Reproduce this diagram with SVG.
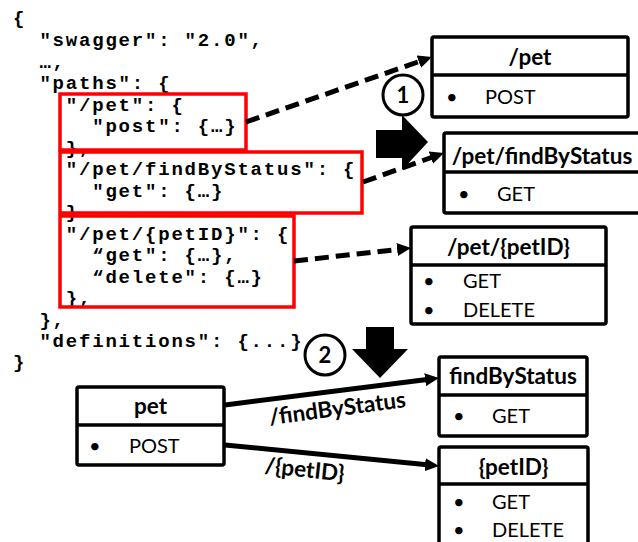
<svg xmlns="http://www.w3.org/2000/svg" width="638" height="542" viewBox="0 0 638 542">
<style>
.code{font-family:"Liberation Mono","Courier New",monospace;font-weight:bold;font-size:19px;letter-spacing:1.8px;fill:#000}
.box{fill:#fff;stroke:#000;stroke-width:3.5}
.div{stroke:#000;stroke-width:3.5}
.red{fill:none;stroke:#f00;stroke-width:3.5}
.ttl{font-family:Lato,"Liberation Sans",sans-serif;font-weight:bold;font-size:22.5px;text-anchor:middle;fill:#000}
.itm{font-family:Lato,"Liberation Sans",sans-serif;font-size:20px;fill:#000}
.lbl{font-family:Lato,"Liberation Sans",sans-serif;font-weight:bold;font-size:22.5px;fill:#000}
.num{font-family:Lato,"Liberation Sans",sans-serif;font-weight:bold;font-size:22px;text-anchor:middle;fill:#000}
.dash{stroke:#000;stroke-width:5;stroke-dasharray:14 7;fill:none}
.solid{stroke:#000;stroke-width:5;fill:none}
.circ{fill:#fff;stroke:#000;stroke-width:3}
</style>
<defs>
<marker id="ah" markerUnits="userSpaceOnUse" markerWidth="14" markerHeight="13" refX="2" refY="6.5" orient="auto">
<path d="M0,0 L14,6.5 L0,13 z" fill="#000"/>
</marker>
</defs>
<g id="code">
<text class="code" x="13" y="24">{</text>
<text class="code" x="39.4" y="46">"swagger": "2.0",</text>
<text class="code" x="39.4" y="68">…,</text>
<text class="code" x="39.4" y="89">"paths": {</text>
<text class="code" x="65.8" y="111">"/pet": {</text>
<text class="code" x="92.2" y="132">"post": {…}</text>
<text class="code" x="65.8" y="154">},</text>
<text class="code" x="65.8" y="175">"/pet/findByStatus": {</text>
<text class="code" x="92.2" y="197">"get": {…}</text>
<text class="code" x="65.8" y="218">}</text>
<text class="code" x="65.8" y="240">"/pet/{petID}": {</text>
<text class="code" x="92.2" y="261">“get": {…},</text>
<text class="code" x="92.2" y="283">“delete": {…}</text>
<text class="code" x="65.8" y="304">},</text>
<text class="code" x="39.4" y="326">},</text>
<text class="code" x="39.4" y="347">"definitions": {...}</text>
<text class="code" x="13" y="368">}</text>
</g>
<g id="highlights">
<rect class="red" x="60" y="94" width="186" height="56"/>
<rect class="red" x="60" y="152" width="302" height="61"/>
<rect class="red" x="60" y="216" width="234" height="91"/>
</g>
<g id="connectors">
<line class="dash" x1="246" y1="122" x2="420.7" y2="61" marker-end="url(#ah)"/>
<line class="dash" x1="363" y1="182" x2="432.7" y2="157" marker-end="url(#ah)"/>
<line class="dash" x1="294" y1="261" x2="399.1" y2="249.3" marker-end="url(#ah)"/>
<line class="solid" x1="225" y1="405" x2="427.1" y2="379.5" marker-end="url(#ah)"/>
<line class="solid" x1="225" y1="445" x2="427.1" y2="464.8" marker-end="url(#ah)"/>
<text class="lbl" x="270" y="425" transform="rotate(-7.5 270 425)">/findByStatus</text>
<text class="lbl" x="264" y="473" transform="rotate(6 264 473)">/{petID}</text>
</g>
<g id="step1">
<circle class="circ" cx="403" cy="95" r="20"/>
<text class="num" x="403" y="103">1</text>
<polygon points="376,130 402,130 402,115 428,142 402,170 402,158 376,158" fill="#000"/>
</g>
<g id="step2">
<circle class="circ" cx="325" cy="355" r="20"/>
<text class="num" x="325" y="363">2</text>
<polygon points="366,327 394,327 394,349 408,349 380,378 352,349 366,349" fill="#000"/>
</g>
<g id="node-pet-path">
<rect class="box" x="432" y="37" width="196" height="80" rx="2"/>
<line class="div" x1="432" y1="75" x2="628" y2="75"/>
<text class="ttl" x="530" y="65">/pet</text>
<text class="itm" x="446" y="104">•</text>
<text class="itm" x="485" y="104">POST</text>
</g>
<g id="node-findByStatus-path">
<rect class="box" x="444" y="133" width="200" height="80" rx="2"/>
<line class="div" x1="444" y1="172" x2="644" y2="172"/>
<text class="ttl" x="542" y="164">/pet/findByStatus</text>
<text class="itm" x="458" y="201">•</text>
<text class="itm" x="497" y="201">GET</text>
</g>
<g id="node-petID-path">
<rect class="box" x="411" y="227" width="195" height="97" rx="2"/>
<line class="div" x1="411" y1="265" x2="606" y2="265"/>
<text class="ttl" x="508.5" y="255">/pet/{petID}</text>
<text class="itm" x="423" y="288">•</text>
<text class="itm" x="463" y="288">GET</text>
<text class="itm" x="423" y="317">•</text>
<text class="itm" x="463" y="317">DELETE</text>
</g>
<g id="node-pet">
<rect class="box" x="77" y="387" width="147" height="78" rx="2"/>
<line class="div" x1="77" y1="425" x2="224" y2="425"/>
<text class="ttl" x="150.5" y="414">pet</text>
<text class="itm" x="89" y="453">•</text>
<text class="itm" x="129" y="453">POST</text>
</g>
<g id="node-findByStatus">
<rect class="box" x="439" y="357" width="148" height="79" rx="2"/>
<line class="div" x1="439" y1="395" x2="587" y2="395"/>
<text class="ttl" x="513" y="384">findByStatus</text>
<text class="itm" x="453" y="423">•</text>
<text class="itm" x="492" y="423">GET</text>
</g>
<g id="node-petID">
<rect class="box" x="439" y="447" width="149" height="105" rx="2"/>
<line class="div" x1="439" y1="484" x2="588" y2="484"/>
<text class="ttl" x="513.5" y="475">{petID}</text>
<text class="itm" x="453" y="509">•</text>
<text class="itm" x="492" y="509">GET</text>
<text class="itm" x="453" y="537">•</text>
<text class="itm" x="492" y="537">DELETE</text>
</g>
</svg>
